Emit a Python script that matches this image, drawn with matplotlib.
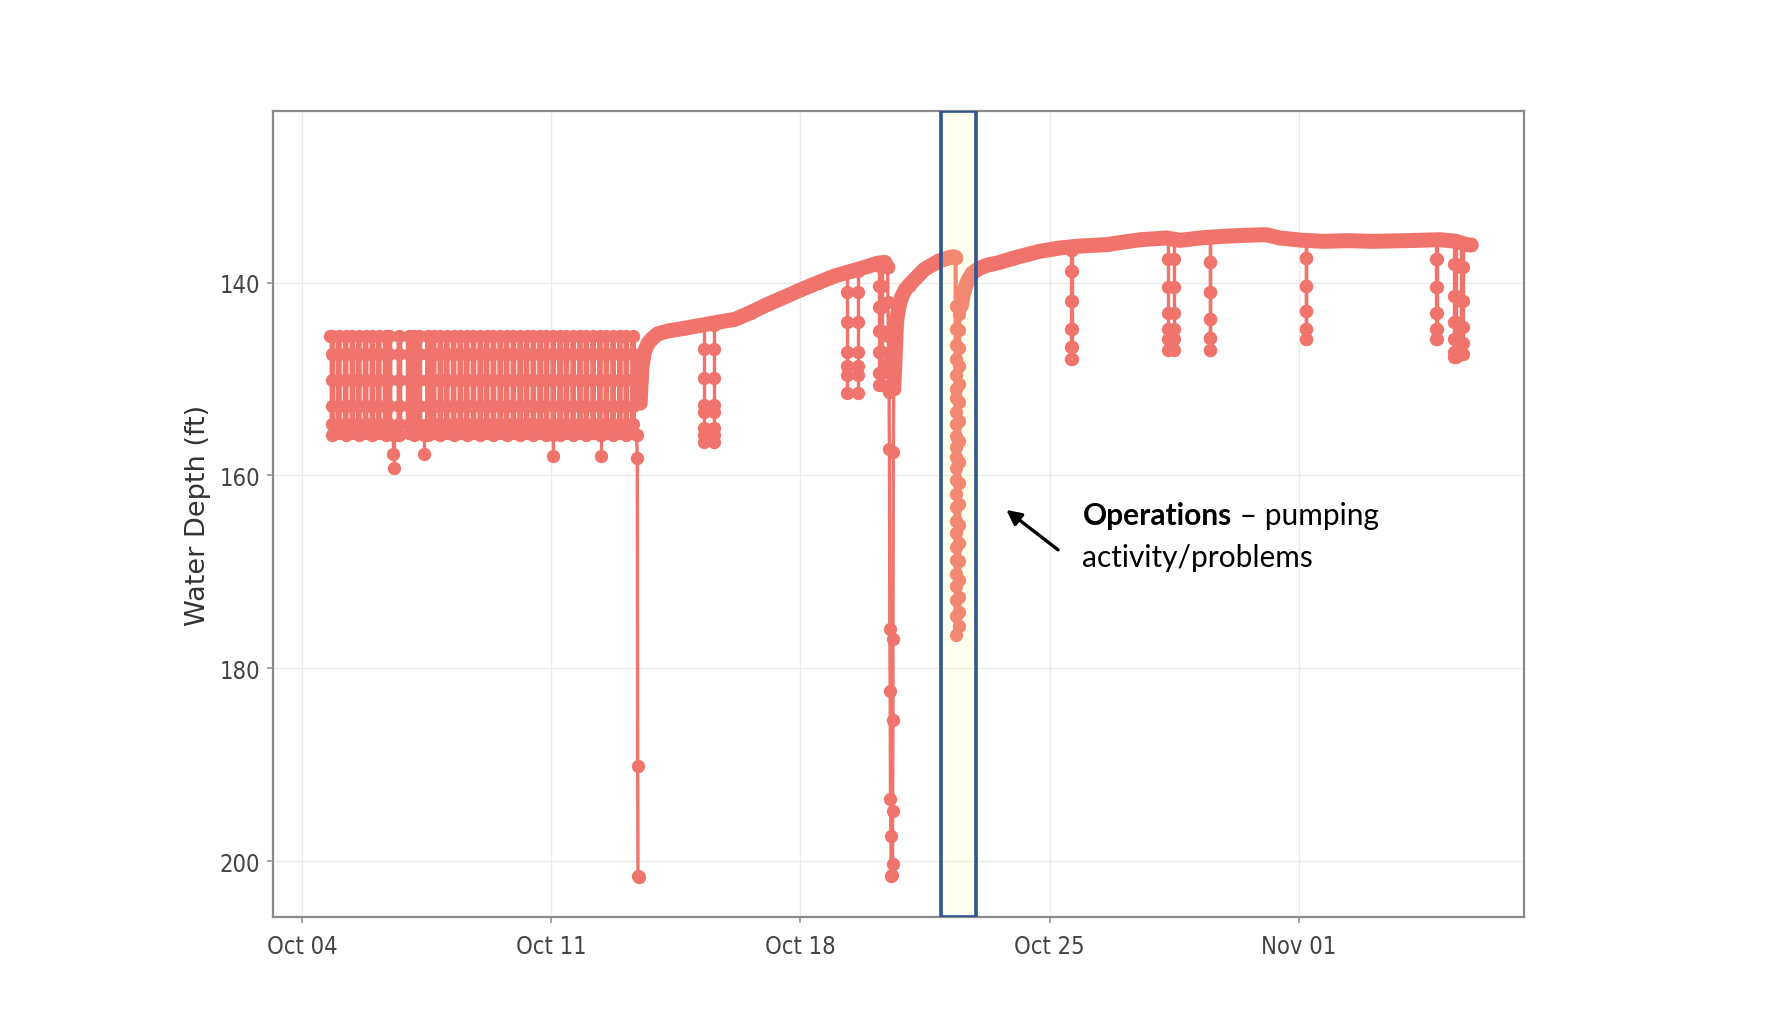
import numpy as np
import pandas as pd
import matplotlib
matplotlib.use('Agg')
import matplotlib.pyplot as plt
import matplotlib.dates as mdates

# all times are days after 2020-10-04 00:00, depths in ft
t0 = pd.Timestamp('2020-10-04')

# pump cycling Oct 04 - Oct 13 : drawdown times / recovery times
pump_on = [0.86, 1.23, 1.60, 1.98, 2.35, 2.74, 3.15, 3.54, 3.89, 4.26, 4.63, 5.01,
           5.38, 5.75, 6.13, 6.50, 6.87, 7.25, 7.62, 7.99, 8.37, 8.74, 9.11]
pump_off = [1.04, 1.42, 1.79, 2.16, 2.46, 3.00, 3.30, 3.70, 4.07, 4.45, 4.82, 5.19,
            5.57, 5.94, 6.31, 6.69, 7.06, 7.43, 7.81, 8.18, 8.55, 8.93, 9.30]
cycle_down = [145.5, 147.4, 150.1, 152.8, 154.7, 155.8]
cycle_up = [155.6, 154.7, 152.8, 150.1, 147.4, 145.5]

# a few deeper readings inside the cycling block
dip_days = [2.56, 2.58, 3.44, 7.04, 8.39]
dip_depth = [157.8, 159.2, 157.8, 158.0, 158.0]

# crash on Oct 13
crash1_days = [9.40, 9.42, 9.43, 9.44, 9.46]
crash1_depth = [155.8, 158.2, 190.1, 201.5, 201.6]

# crash on Oct 20
crash2_days = [16.45, 16.46, 16.47, 16.48, 16.49, 16.50, 16.51, 16.52, 16.53, 16.54, 16.55,
               16.58, 16.59, 16.59, 16.60, 16.60, 16.61, 16.62]
crash2_depth = [138.4, 142.0, 145.5, 148.3, 151.3, 157.3, 175.9, 182.4, 193.6, 197.4, 201.5,
                201.4, 200.3, 194.8, 185.4, 177.0, 157.6, 151.0]

# recovery trends
trend1_days = [9.50, 9.55, 9.62, 9.72, 9.84, 10.0, 10.31, 10.8, 11.24, 11.7, 12.17, 12.6,
               13.11, 13.55, 14.04, 14.5, 14.97, 15.45, 15.91, 16.15, 16.37, 16.45]
trend1_depth = [152.5, 148.8, 147.2, 146.3, 145.8, 145.3, 145.0, 144.7, 144.4, 144.1, 143.8, 143.1,
                142.2, 141.5, 140.7, 140.0, 139.3, 138.8, 138.3, 138.0, 137.9, 138.4]
trend2_days = [16.62, 16.66, 16.70, 16.76, 16.84, 16.95, 17.07, 17.25, 17.49, 17.87, 18.10, 18.29, 18.36]
trend2_depth = [151.0, 147.8, 144.1, 142.6, 141.5, 140.7, 140.2, 139.5, 138.6, 137.8, 137.5, 137.3, 137.4]
trend3_days = [18.52, 18.57, 18.63, 18.70, 18.83, 19.03, 19.24, 19.6, 19.95, 20.35, 20.73, 21.3, 21.87,
               22.6, 23.07, 23.54, 24.28, 24.65, 25.27, 25.87, 26.47, 27.08, 27.46, 28.07, 28.68,
               29.38, 30.08, 30.98, 31.95, 32.39, 32.70, 32.84]
trend3_depth = [142.4, 141.3, 140.5, 139.8, 139.0, 138.5, 138.2, 137.9, 137.5, 137.1, 136.75, 136.4, 136.2,
                136.06, 135.8, 135.55, 135.37, 135.62, 135.35, 135.2, 135.1, 135.03, 135.37, 135.6, 135.72,
                135.65, 135.72, 135.65, 135.55, 135.7, 136.06, 136.1]

# Oct 22 operations event (inside the box)
ops_down = [137.4, 142.4, 144.8, 146.5, 147.9, 149.6, 151.0, 152.0, 153.4, 154.7, 155.9, 157.1, 158.1,
            159.2, 160.5, 161.9, 163.3, 164.7, 166.0, 167.4, 168.8, 170.2, 171.5, 172.9, 174.6, 176.5]
ops_up = [175.6, 174.2, 172.6, 170.8, 168.9, 167.0, 165.1, 163.0, 160.8, 158.6, 156.4, 154.4,
          152.4, 150.5, 148.6, 146.8, 144.9, 143.3, 142.4]

# short drawdowns: down time, up time, readings
ev_down = [11.30, 15.30, 16.22, 21.61, 24.33, 25.49, 28.19, 31.85, 32.36, 32.56]
ev_up = [11.56, 15.63, 16.30, 21.63, 24.49, 25.51, 28.21, 31.87, 32.42, 32.62]
ev_depths = [[144.4, 146.9, 149.9, 152.7, 153.4, 155.1, 155.8, 156.5],
             [138.8, 141.0, 144.1, 147.2, 148.6, 149.6, 151.5],
             [138.3, 140.3, 142.5, 145.0, 147.2, 149.4, 150.6],
             [136.6, 138.8, 141.9, 144.8, 146.7, 147.9],
             [135.4, 137.6, 140.5, 143.1, 144.8, 145.8, 147.0],
             [135.3, 137.9, 141.0, 143.8, 145.7, 147.0],
             [135.6, 137.4, 140.4, 142.9, 144.8, 145.8],
             [135.6, 137.6, 140.5, 143.1, 144.8, 145.8],
             [135.7, 138.1, 141.4, 144.1, 145.8, 147.2, 147.7],
             [135.9, 138.4, 141.9, 144.6, 146.3, 147.4]]

box_days = [17.94, 18.93]
tick_days = [0, 7, 14, 21, 28]
y_ticks = [140, 160, 180, 200]

RED = '#F0746B'
MS = 9.6
LW = 2.4


def dt(d):
    return t0 + pd.to_timedelta(np.asarray(d, dtype=float), unit='D')


fig = plt.figure(figsize=(17.86, 10.12), dpi=100)
ax = fig.add_axes([273 / 1786, 1 - 918 / 1012, (1524 - 273) / 1786, (918 - 112) / 1012])


def dots(xs, ys, lw=LW):
    ax.plot(dt(xs), ys, '-o', color=RED, ms=MS, lw=lw, mew=0)


# cycling block
bx, by = [0.80], [145.5]
for on, off in zip(pump_on, pump_off):
    bx += [on] * len(cycle_down) + [off] * len(cycle_up)
    by += cycle_down + cycle_up
dots(bx, by, lw=4.2)
for d, v in zip(dip_days, dip_depth):
    dots([d, d], [155.8, v])

dots(crash1_days, crash1_depth)
dots(crash2_days, crash2_depth)

# trends: many overlapping readings -> thick band
for xs, ys in [(trend1_days, trend1_depth), (trend2_days, trend2_depth), (trend3_days, trend3_depth)]:
    ax.plot(dt(xs), ys, color=RED, lw=10.8, solid_capstyle='round', solid_joinstyle='round')
    ax.plot(dt(xs), ys, 'o', color=RED, ms=MS, mew=0)

dots([18.36] * len(ops_down) + [18.46] * len(ops_up), ops_down + ops_up, lw=3.0)

for a, b, ds in zip(ev_down, ev_up, ev_depths):
    dots([a] * len(ds) + [b] * len(ds), ds + ds[::-1])

# highlighted period
ax.axvspan(dt(box_days[0]), dt(box_days[1]), facecolor='#FFFF99', alpha=0.15, lw=0, zorder=5)
ax.axvspan(dt(box_days[0]), dt(box_days[1]), fill=False, edgecolor='#2F5597', lw=2.6, zorder=6)

# annotation
ax.annotate('', xy=(dt(19.72), 163.4), xytext=(dt(21.3), 167.9),
            arrowprops=dict(arrowstyle='-|>', color='black', lw=2.4, mutation_scale=22))
t1 = ax.text(dt(21.92), 165.0, 'Operations', fontfamily='Lato', fontweight='bold',
             fontsize=21.5, va='baseline', color='black')
ax.annotate(' \u2013 pumping', xy=(1, 0), xycoords=t1, fontfamily='Lato', fontsize=21.5,
            va='bottom', ha='left', color='black')
ax.text(dt(21.92), 169.4, 'activity/problems', fontfamily='Lato', fontsize=21.5,
        va='baseline', color='black')

ax.set_xlim(dt(-0.81), dt(34.32))
ax.set_ylim(205.8, 122.2)
ax.set_xticks(dt(tick_days))
ax.xaxis.set_major_formatter(mdates.DateFormatter('%b %d'))
ax.set_yticks(y_ticks)

ax.grid(color='#EBEBEB', lw=1.0)
ax.set_axisbelow(True)
for s in ax.spines.values():
    s.set_color('#8A8A8A')
    s.set_linewidth(1.6)
ax.tick_params(length=4.3, width=1.1, color='#8A8A8A', labelcolor='#444444')
ax.tick_params(axis='x', pad=8)
ax.tick_params(axis='y', pad=5)
for lab in ax.get_xticklabels() + ax.get_yticklabels():
    lab.set_fontfamily('DejaVu Sans')
    lab.set_fontstretch('condensed')
    lab.set_fontsize(17)

ax.set_ylabel('Water Depth (ft)', fontsize=19.5, color='#333333', va='center')
ax.yaxis.set_label_coords((198 - 273) / (1524 - 273), 0.5)

fig.savefig('out.png', dpi=100)
